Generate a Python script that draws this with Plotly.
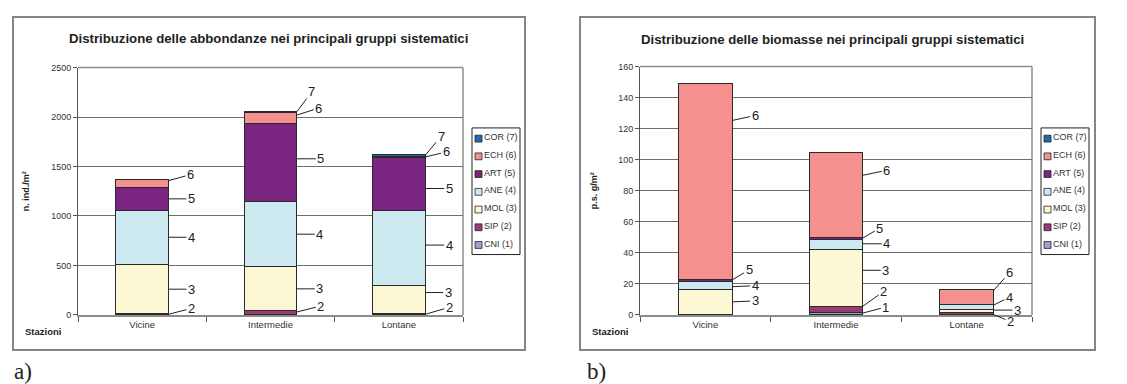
import plotly.graph_objects as go

# ---------------- data ----------------
stations = ["Vicine", "Intermedie", "Lontane"]
series_names = ["CNI (1)", "SIP (2)", "MOL (3)", "ANE (4)", "ART (5)", "ECH (6)", "COR (7)"]
series_colors = ["#9C9FD4", "#9B3B72", "#FBF8D3", "#CCE9EF", "#7A2582", "#F4908E", "#1F6BB0"]

# a) abbondanze (n. ind./m²)
abb_cni = [2, 3, 2]
abb_sip = [8, 38, 8]
abb_mol = [500, 445, 288]
abb_ane = [550, 660, 755]
abb_art = [226, 785, 535]
abb_ech = [79, 115, 16]
abb_cor = [0, 8, 16]

# b) biomasse (p.s. g/m²)
bio_cni = [0.1, 1.5, 0.1]
bio_sip = [0.2, 4.2, 1.6]
bio_mol = [16.2, 36.6, 2.1]
bio_ane = [5.1, 6.3, 3.1]
bio_art = [1.2, 1.0, 0.1]
bio_ech = [126.5, 55.3, 9.3]
bio_cor = [0, 0, 0]

abb_ticks = [0, 500, 1000, 1500, 2000, 2500]
bio_ticks = [0, 20, 40, 60, 80, 100, 120, 140, 160]

title_a = "Distribuzione delle abbondanze nei principali gruppi sistematici"
title_b = "Distribuzione delle biomasse nei principali gruppi sistematici"
ytitle_a = "n. ind./m²"
ytitle_b = "p.s. g/m²"

abb = [abb_cni, abb_sip, abb_mol, abb_ane, abb_art, abb_ech, abb_cor]
bio = [bio_cni, bio_sip, bio_mol, bio_ane, bio_art, bio_ech, bio_cor]

# label placement style: (chart, station, series, fraction in segment, dx, dy)
label_style = [
    (0, 0, 1, 0.5, 23, -6), (0, 0, 2, 0.5, 23, 0), (0, 0, 3, 0.5, 23, 0),
    (0, 0, 4, 0.5, 23, 0), (0, 0, 5, 0.9, 22, -6),
    (0, 1, 1, 0.7, 24, -6), (0, 1, 2, 0.5, 23, 0), (0, 1, 3, 0.5, 23, 0),
    (0, 1, 4, 0.55, 24, 0), (0, 1, 5, 0.77, 22, -7), (0, 1, 6, 0.9, 15, -20),
    (0, 2, 1, 0.5, 24, -7), (0, 2, 2, 0.75, 23, 0), (0, 2, 3, 0.54, 24, 0),
    (0, 2, 4, 0.42, 24, 0), (0, 2, 5, 0.5, 21, -5), (0, 2, 6, 0.5, 16, -19),
    (1, 0, 2, 0.5, 23, -1), (1, 0, 3, 0.33, 23, -1), (1, 0, 4, 0.8, 17, -10),
    (1, 0, 5, 0.81, 23, -5),
    (1, 1, 0, 0.8, 23, -6), (1, 1, 1, 0.97, 21, -15), (1, 1, 2, 0.63, 23, 0),
    (1, 1, 3, 0.56, 24, 0), (1, 1, 4, 0.9, 17, -10), (1, 1, 5, 0.73, 24, -5),
    (1, 2, 1, 0.1, 17, 7), (1, 2, 2, 0.67, 24, 0), (1, 2, 3, 0.8, 16, -8),
    (1, 2, 5, 0.93, 16, -18),
]

# ---------------- figure ----------------
W, H = 1127, 384
FONT = "Liberation Sans, Arial, sans-serif"
BAR_W = 0.41

def px(x):
    return x / W

def py(y):
    return 1 - y / H

fig = go.Figure()

for k, (data, xa, ya) in enumerate([(abb, "x", "y"), (bio, "x2", "y2")]):
    for i, name in enumerate(series_names):
        fig.add_trace(go.Bar(
            x=stations, y=data[i], name=name, xaxis=xa, yaxis=ya,
            width=BAR_W, marker=dict(color=series_colors[i], line=dict(color="#2a2a2a", width=1)),
            showlegend=False,
        ))

axis_common_x = dict(
    type="category", showgrid=False, showline=True, linecolor="#8c8c8c", linewidth=1.5,
    ticks="outside", tickson="boundaries", ticklen=5, tickcolor="#555",
    tickfont=dict(family=FONT, size=9.5, color="#333"), zeroline=False, fixedrange=True,
)
axis_common_y = dict(
    showgrid=True, gridcolor="#6e6e6e", gridwidth=1, showline=True, linecolor="#555",
    linewidth=1, ticks="outside", ticklen=4, tickcolor="#555",
    tickfont=dict(family=FONT, size=9, color="#333"), zeroline=False, fixedrange=True,
)

fig.update_layout(
    width=W, height=H, autosize=False, margin=dict(l=0, r=0, t=0, b=0),
    paper_bgcolor="white", plot_bgcolor="white", barmode="stack", bargap=0.59,
    xaxis=dict(domain=[px(70), px(455)], anchor="y", **axis_common_x),
    yaxis=dict(domain=[py(310), py(56)], anchor="x", range=[0, 2500], tickvals=abb_ticks,
               title=dict(text="<b>" + ytitle_a + "</b>", font=dict(family=FONT, size=9, color="#222"),
                          standoff=20),
               **axis_common_y),
    xaxis2=dict(domain=[px(632), px(1024)], anchor="y2", **axis_common_x),
    yaxis2=dict(domain=[py(310), py(55)], anchor="x2", range=[0, 160], tickvals=bio_ticks,
                title=dict(text="<b>" + ytitle_b + "</b>", font=dict(family=FONT, size=9, color="#222"),
                           standoff=19),
                **axis_common_y),
)

shapes = []
# outer frames
for (x0, x1) in [(5, 517), (572, 1087)]:
    shapes.append(dict(type="rect", xref="paper", yref="paper", x0=px(x0), x1=px(x1),
                       y0=py(346), y1=py(4), line=dict(color="#858585", width=2), layer="below"))
# plot area top/right borders
for xr, yr in [("x domain", "y domain"), ("x2 domain", "y2 domain")]:
    shapes.append(dict(type="line", xref=xr, yref=yr, x0=1, x1=1, y0=0, y1=1,
                       line=dict(color="#8c8c8c", width=1.5), layer="below"))
    shapes.append(dict(type="line", xref=xr, yref=yr, x0=0, x1=1, y0=1, y1=1,
                       line=dict(color="#8c8c8c", width=1.5), layer="below"))

annotations = []

def text_ann(text, x, y, xanchor, font):
    return dict(text=text, xref="paper", yref="paper", x=px(x), y=py(y), xanchor=xanchor,
                yanchor="middle", showarrow=False, font=font)

# titles
annotations.append(text_ann("<b>" + title_a + "</b>", 260, 26, "center",
                            dict(family=FONT, size=13.2, color="#222")))
annotations.append(text_ann("<b>" + title_b + "</b>", 824, 27, "center",
                            dict(family=FONT, size=13.2, color="#222")))
# Stazioni
for xs in [15, 582]:
    annotations.append(text_ann("<b>Stazioni</b>", xs, 327, "left", dict(family=FONT, size=9.5, color="#222")))
# a) b)
for xs, t in [(4, "a)"), (577, "b)")]:
    annotations.append(text_ann(t, xs, 368, "left",
                                dict(family="Liberation Serif, Times New Roman, serif", size=23, color="#222")))

# manual legends (top item = COR (7))
for lx in [464, 1033]:
    shapes.append(dict(type="rect", xref="paper", yref="paper", x0=px(lx), x1=px(lx + 48),
                       y0=py(248), y1=py(118), line=dict(color="#222", width=1), fillcolor="white"))
    for r, i in enumerate(reversed(range(len(series_names)))):
        yc = 129 + r * 18.2
        shapes.append(dict(type="rect", xref="paper", yref="paper", x0=px(lx + 3), x1=px(lx + 10),
                           y0=py(yc + 3.5), y1=py(yc - 3.5), fillcolor=series_colors[i],
                           line=dict(color="#222", width=0.8)))
        annotations.append(text_ann(series_names[i], lx + 10, yc - 1.5, "left",
                                    dict(family=FONT, size=9, color="#333")))

# leader-line labels
for chart, st, si, frac, dx, dy in label_style:
    data = abb if chart == 0 else bio
    base = sum(data[j][st] for j in range(si))
    yv = base + frac * data[si][st]
    annotations.append(dict(
        text=str(si + 1), x=st + BAR_W / 2, y=yv,
        xref="x" if chart == 0 else "x2", yref="y" if chart == 0 else "y2",
        showarrow=True, arrowhead=0, arrowwidth=1, arrowcolor="#222", standoff=0,
        ax=dx, ay=dy, axref="pixel", ayref="pixel",
        font=dict(family=FONT, size=13, color="#222"),
    ))

fig.update_layout(shapes=shapes, annotations=annotations)
fig.write_html("out.html")
